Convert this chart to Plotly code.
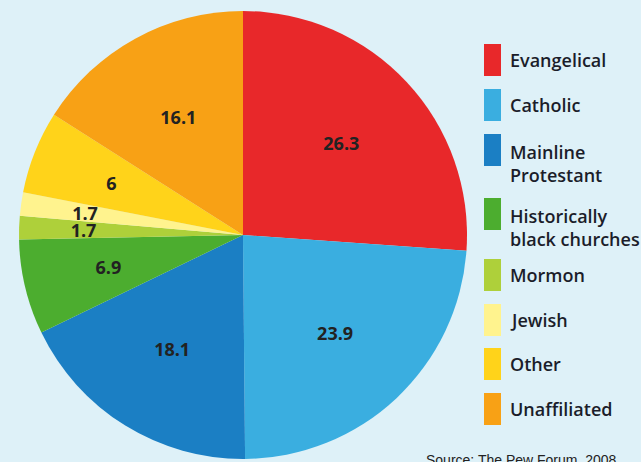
import plotly.graph_objects as go

# ---- data ----
categories = ["Evangelical", "Catholic", "Mainline Protestant", "Historically black churches",
              "Mormon", "Jewish", "Other", "Unaffiliated"]
legend_labels = ["Evangelical", "Catholic", "Mainline<br>Protestant", "Historically<br>black churches",
                 "Mormon", "Jewish", "Other", "Unaffiliated"]
values = [26.3, 23.9, 18.1, 6.9, 1.7, 1.7, 6, 16.1]
colors = ["#e8282a", "#3aaee0", "#1b7fc4", "#4cad2f", "#aed03a", "#fff38e", "#ffd31a", "#f8a115"]
source_text = "Source: The Pew Forum, 2008"

W, H = 641, 462
BG = "#def1f8"
CX, CY, R = 243, 235, 224
dom = dict(x=[(CX - R) / W, (CX + R) / W], y=[(H - CY - R) / H, (H - CY + R) / H])
RT = 168  # radius of the invisible ring that carries the labels
dom_t = dict(x=[(CX - RT) / W, (CX + RT) / W], y=[(H - CY - RT) / H, (H - CY + RT) / H])

# colored slices
fig = go.Figure(go.Pie(
    labels=categories, values=values, sort=False, direction="clockwise", rotation=0,
    marker=dict(colors=colors, line=dict(width=0)),
    textinfo="none", showlegend=False, hoverinfo="label+value", domain=dom,
))
# transparent ring carrying the value labels
fig.add_trace(go.Pie(
    labels=categories, values=values, sort=False, direction="clockwise", rotation=0,
    hole=0.6,
    marker=dict(colors=["rgba(0,0,0,0)"] * len(values), line=dict(width=0)),
    text=[f"{v:g}" for v in values], textinfo="text", textposition="inside",
    insidetextorientation="horizontal",
    textfont=dict(family="Open Sans", size=18, color="#222222", weight=700),
    showlegend=False, hoverinfo="skip", domain=dom_t,
))

# legend drawn as swatches + labels (pixel layout)
swatch_top = [44, 89, 134, 198, 259, 304, 348, 393]
text_y = [60, 105, 163, 227, 275, 320, 364, 409]
shapes = []
annotations = []
for i, lab in enumerate(legend_labels):
    y0 = swatch_top[i]
    shapes.append(dict(type="rect", xref="paper", yref="paper",
                       x0=484 / W, x1=501 / W, y0=1 - (y0 + 32) / H, y1=1 - y0 / H,
                       fillcolor=colors[i], line=dict(width=0)))
    annotations.append(dict(xref="paper", yref="paper", x=508 / W, y=1 - text_y[i] / H,
                            xanchor="left", yanchor="middle", align="left", showarrow=False,
                            text=lab,
                            font=dict(family="Open Sans", size=18, color="#1b1d2a", weight=600)))

annotations.append(dict(xref="paper", yref="paper", x=424 / W, y=1 - 460 / H,
                        xanchor="left", yanchor="middle", showarrow=False, text=source_text,
                        font=dict(family="Liberation Sans", size=14, color="#222222")))

fig.update_layout(
    width=W, height=H,
    margin=dict(l=0, r=0, t=0, b=0),
    paper_bgcolor=BG, plot_bgcolor=BG,
    uniformtext=dict(minsize=18, mode="show"),
    shapes=shapes, annotations=annotations,
)

fig.write_html("out.html", config={"displayModeBar": False},
               post_script="document.body.style.margin='0';")
